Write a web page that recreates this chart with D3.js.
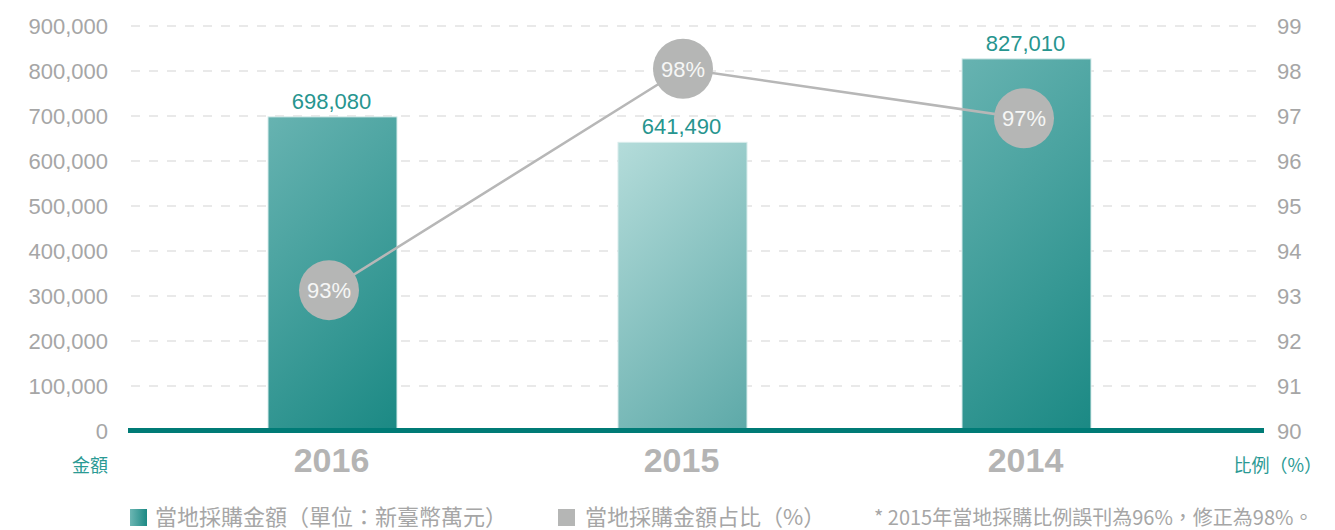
<!DOCTYPE html>
<html><head><meta charset="utf-8">
<script src="https://cdn.jsdelivr.net/npm/d3@7"></script>
<style>body{margin:0;background:#fff;}svg{display:block;font-family:"Liberation Sans","Noto Sans CJK TC",sans-serif;}</style>
</head><body><svg id="c" width="1335" height="530"></svg>
<script>
const years = ["2016","2015","2014"];
const amounts = [698080, 641490, 827010];
const amountLabels = ["698,080","641,490","827,010"];
const ratios = [93.13, 98.05, 96.95];
const ratioLabels = ["93%","98%","97%"];
const leftTicks = [0,100000,200000,300000,400000,500000,600000,700000,800000,900000];
const rightTicks = [90,91,92,93,94,95,96,97,98,99];

const svg = d3.select("#c");
const defs = svg.append("defs");

const x0 = 131, x1 = 1264, yTop = 26, yBot = 431;
const y = d3.scaleLinear().domain([0,900000]).range([yBot, yTop]);
const y2 = d3.scaleLinear().domain([90,99]).range([yBot, yTop]);
const x = d3.scaleOrdinal().domain(years).range([332.5, 682.5, 1026.5]);
const xc = d3.scaleOrdinal().domain(years).range([329, 683, 1024]);
const barW = 129;
const barColors = [["#67b3b1","#1b8984"],["#b4dcda","#5da9a8"],["#67b3b1","#1b8984"]];

years.forEach((d,i)=>{
  const bx = x(d)-barW/2, by = y(amounts[i]), h = yBot - by, L = (barW + h)/2;
  const g = defs.append("linearGradient").attr("id","g"+i).attr("gradientUnits","userSpaceOnUse")
    .attr("x1",bx).attr("y1",by).attr("x2",bx+L).attr("y2",by+L);
  g.append("stop").attr("offset","0%").attr("stop-color",barColors[i][0]);
  g.append("stop").attr("offset","100%").attr("stop-color",barColors[i][1]);
});
const lg = defs.append("linearGradient").attr("id","gLeg");
lg.append("stop").attr("offset","0%").attr("stop-color","#6cb6b3");
lg.append("stop").attr("offset","100%").attr("stop-color","#1c8984");

svg.append("g").selectAll("line").data(leftTicks.filter(d=>d>0)).join("line")
  .attr("x1", x0).attr("x2", x1).attr("y1", d=>y(d)).attr("y2", d=>y(d))
  .attr("stroke","#d3d3d3").attr("stroke-width",1).attr("stroke-dasharray","9,9");

const la = svg.append("g").attr("transform",`translate(108,0)`)
  .call(d3.axisLeft(y).tickValues(leftTicks).tickSize(0).tickPadding(0).tickFormat(d3.format(",")));
la.select(".domain").remove();
la.selectAll("text").attr("fill","#a6a6a6").style("font-size","22px").attr("font-family","Liberation Sans, sans-serif");

const ra = svg.append("g").attr("transform",`translate(1277,0)`)
  .call(d3.axisRight(y2).tickValues(rightTicks).tickSize(0).tickPadding(0));
ra.select(".domain").remove();
ra.selectAll("text").attr("fill","#a6a6a6").style("font-size","22px").attr("font-family","Liberation Sans, sans-serif");

svg.append("g").selectAll("rect").data(years).join("rect")
  .attr("x", d=>x(d)-barW/2).attr("width", barW)
  .attr("y", (d,i)=>y(amounts[i])).attr("height",(d,i)=>yBot-y(amounts[i]))
  .attr("fill",(d,i)=>`url(#g${i})`)
  .attr("stroke","#d8eceb").attr("stroke-width",1);

svg.append("line").attr("x1",128).attr("x2",x1).attr("y1",430.5).attr("y2",430.5)
  .attr("stroke","#007b76").attr("stroke-width",5);

svg.append("g").selectAll("text").data(years).join("text")
  .attr("x", d=>x(d)-1).attr("y",(d,i)=>y(amounts[i])-8)
  .attr("text-anchor","middle").attr("fill","#27958f").style("font-size","22px")
  .text((d,i)=>amountLabels[i]);

svg.append("g").selectAll("text").data(years).join("text")
  .attr("x", d=>x(d)-1).attr("y", 472)
  .attr("text-anchor","middle").attr("fill","#b4b4b4").style("font-size","34px").style("font-weight","bold")
  .text(d=>d);

const lineGen = d3.line().x((d,i)=>xc(years[i])).y(d=>y2(d));
svg.append("path").datum(ratios).attr("d", lineGen).attr("fill","none")
  .attr("stroke","#b7b7b7").attr("stroke-width",2.5);
const pts = svg.append("g").selectAll("g").data(ratios).join("g")
  .attr("transform",(d,i)=>`translate(${xc(years[i])},${y2(d)})`);
pts.append("circle").attr("r",30).attr("fill","#b5b6b5");
pts.append("text").attr("text-anchor","middle").attr("dy","0.36em").attr("fill","#f6f6f6")
  .style("font-size","22px").text((d,i)=>ratioLabels[i]);

svg.append("text").attr("x",108).attr("y",472).attr("text-anchor","end").attr("fill","#2a9a94")
  .style("font-size","18px").attr("font-family","Noto Sans CJK TC").text("金額");
svg.append("text").attr("x",1322).attr("y",472).attr("text-anchor","end").attr("fill","#2a9a94")
  .style("font-size","18px").attr("font-family","Noto Sans CJK TC").text("比例（%）");

svg.append("rect").attr("x",130).attr("y",509).attr("width",17).attr("height",17).attr("fill","url(#gLeg)");
svg.append("text").attr("x",155).attr("y",525).attr("fill","#a6a6a6").style("font-size","22px")
  .attr("font-family","Noto Sans CJK TC").text("當地採購金額（單位：新臺幣萬元）");
svg.append("rect").attr("x",558).attr("y",509).attr("width",17).attr("height",17).attr("fill","#b5b6b5");
svg.append("text").attr("x",585).attr("y",525).attr("fill","#a6a6a6").style("font-size","22px")
  .attr("font-family","Noto Sans CJK TC").text("當地採購金額占比（%）");
svg.append("text").attr("x",874).attr("y",525).attr("fill","#a6a6a6").style("font-size","20px")
  .attr("font-family","Noto Sans CJK TC").text("* 2015年當地採購比例誤刊為96%，修正為98%。");
</script></body></html>
